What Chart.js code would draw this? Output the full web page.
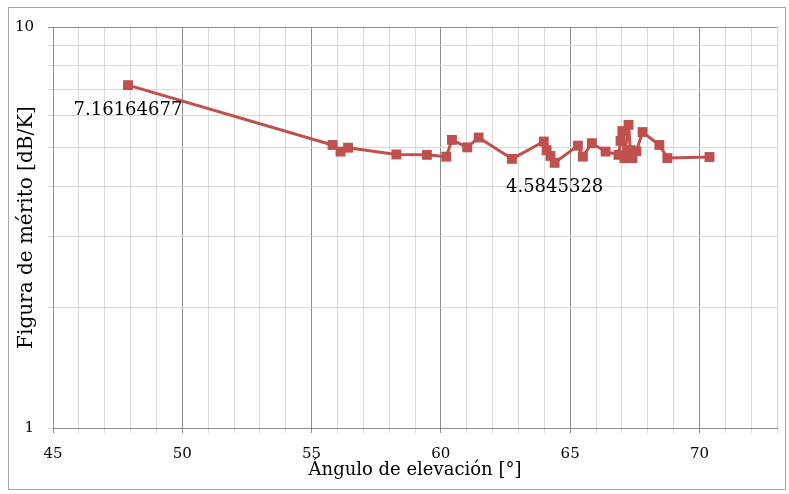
<!DOCTYPE html>
<html>
<head>
<meta charset="utf-8">
<script src="https://cdn.jsdelivr.net/npm/chart.js@4"></script>
<style>
  html, body { margin: 0; padding: 0; background: #fff; }
  #wrap { width: 789px; height: 494px; }
</style>
</head>
<body>
<div id="wrap"><canvas id="chart" width="789" height="494"></canvas></div>
<script>
// elevation angle [deg]
const angles = [47.90, 55.81, 56.12, 56.41, 58.28, 59.46, 60.21, 60.43, 61.02, 61.46,
  62.75, 63.98, 64.09, 64.24, 64.40, 65.30, 65.49, 65.84, 66.37, 66.87,
  66.95, 67.02, 67.10, 67.26, 67.33, 67.41, 67.56, 67.80, 68.45, 68.76, 70.39];
// figure of merit [dB/K]
const merit = [7.16164677, 5.08, 4.89, 5.00, 4.81, 4.80, 4.75, 5.23, 5.01, 5.30,
  4.69, 5.18, 4.93, 4.77, 4.5845328, 5.06, 4.75, 5.13, 4.89, 4.80,
  5.20, 5.50, 4.71, 5.70, 4.93, 4.71, 4.90, 5.47, 5.08, 4.71, 4.74];
const pointLabels = { 0: "7.16164677", 14: "4.5845328" };
const yTicks = [1, 2, 3, 4, 5, 6, 7, 8, 9, 10];

const serif = "'DejaVu Serif', 'Liberation Serif', serif";

const frame = {
  id: "frame",
  beforeDraw(chart) {
    const c = chart.ctx;
    c.save();
    c.strokeStyle = "#a6a6a6";
    c.lineWidth = 1;
    c.strokeRect(8.5, 7.5, 777, 482);
    c.restore();
  },
};

const labelsPlugin = {
  id: "pointLabels",
  afterDatasetsDraw(chart) {
    const c = chart.ctx;
    const meta = chart.getDatasetMeta(0);
    c.save();
    c.font = "18px " + serif;
    c.fillStyle = "#000";
    c.textAlign = "center";
    c.textBaseline = "middle";
    Object.keys(pointLabels).forEach((i) => {
      const el = meta.data[i];
      c.fillText(pointLabels[i], el.x, el.y + 25);
    });
    c.restore();
  },
};

new Chart(document.getElementById("chart"), {
  type: "scatter",
  data: {
    datasets: [{
      data: angles.map((a, i) => ({ x: a, y: merit[i] })),
      showLine: true,
      borderColor: "#c0504d",
      backgroundColor: "#c0504d",
      borderWidth: 3,
      borderJoinStyle: "round",
      pointStyle: "rect",
      pointRadius: 7,
      pointBorderWidth: 0,
      tension: 0,
    }],
  },
  options: {
    responsive: false,
    animation: false,
    layout: { padding: { top: 27, right: 12, left: 0, bottom: 0 } },
    plugins: { legend: { display: false }, tooltip: { enabled: false } },
    scales: {
      x: {
        type: "linear",
        min: 45,
        max: 73,
        afterFit: (s) => { s.height = 66; },
        ticks: {
          stepSize: 1,
          autoSkip: false,
          maxRotation: 0,
          padding: 12,
          color: "#000",
          font: { family: serif, size: 15 },
          callback: (v) => (v % 5 === 0 ? v : ""),
        },
        grid: {
          color: (ctx) => (ctx.tick && ctx.tick.value % 5 === 0 ? "#8c8c8c" : "#d9d9d9"),
          tickLength: 5,
          drawTicks: true,
        },
        border: { color: "#8c8c8c" },
        title: {
          display: true,
          text: "Ángulo de elevación [°]",
          color: "#000",
          font: { family: serif, size: 18 },
          padding: { top: 0, bottom: 13 },
        },
      },
      y: {
        type: "logarithmic",
        min: 1,
        max: 10,
        afterFit: (s) => { s.width = 53; },
        afterBuildTicks: (s) => { s.ticks = yTicks.map((v) => ({ value: v })); },
        ticks: {
          padding: 14,
          color: "#000",
          font: { family: serif, size: 15 },
          callback: (v) => (v === 1 || v === 10 ? v : ""),
        },
        grid: {
          color: (ctx) => (ctx.tick && ctx.tick.value === 10 ? "#8c8c8c" : "#d9d9d9"),
          tickLength: 5,
        },
        border: { color: "#8c8c8c" },
        title: {
          display: true,
          text: "Figura de mérito [dB/K]",
          color: "#000",
          font: { family: serif, size: 20 },
          padding: { top: 15, bottom: 0 },
        },
      },
    },
  },
  plugins: [frame, labelsPlugin],
});
</script>
</body>
</html>
